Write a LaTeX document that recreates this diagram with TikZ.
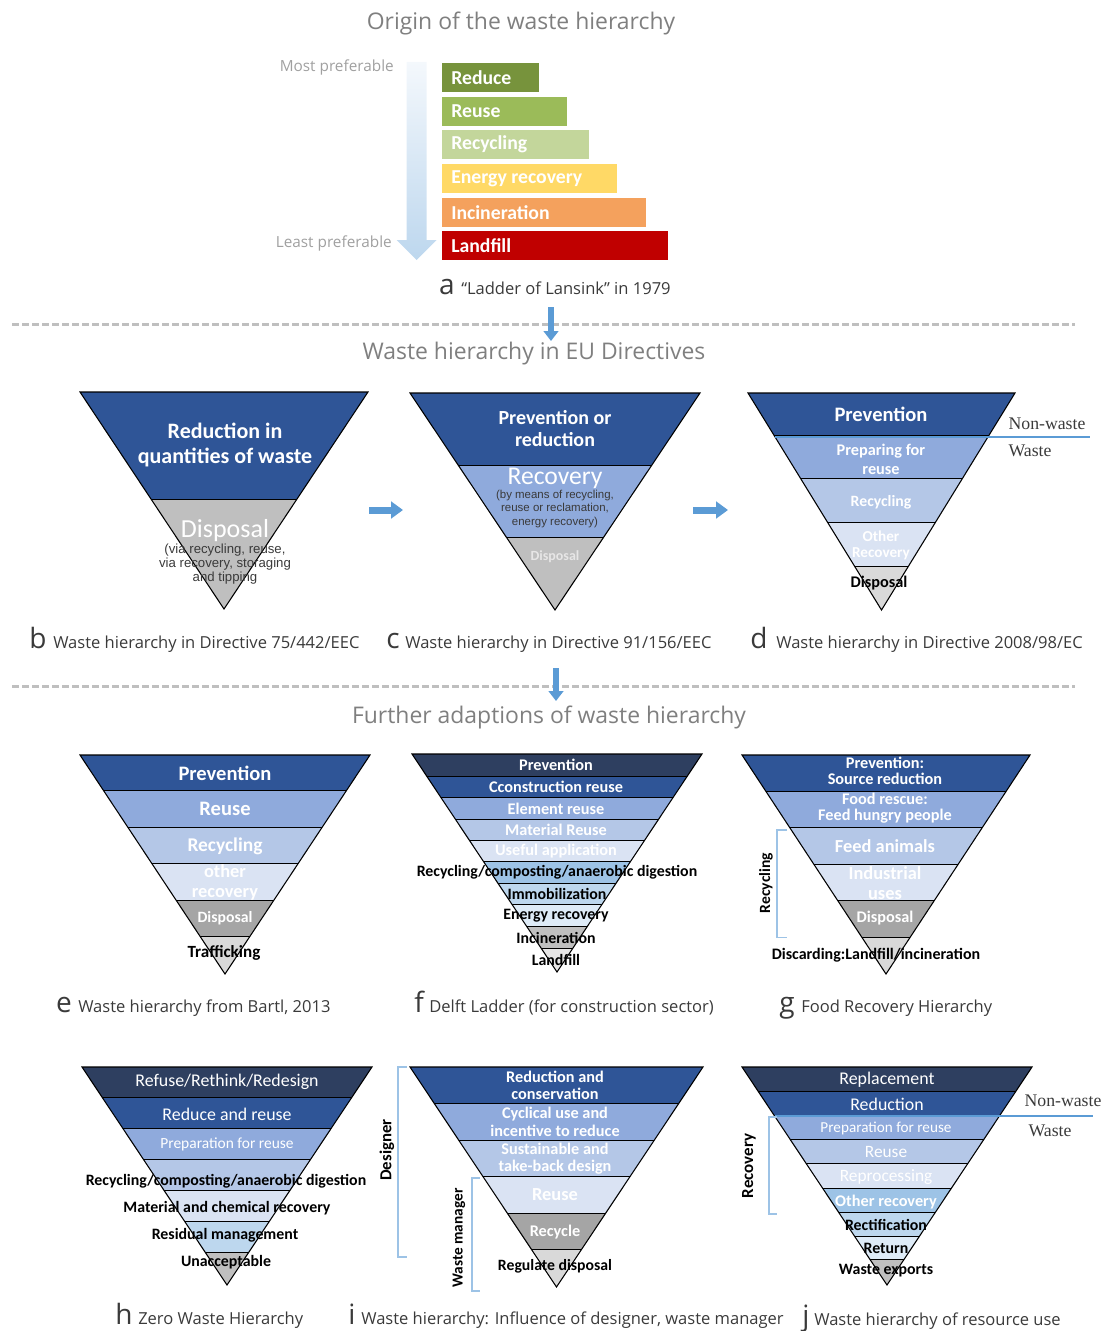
\documentclass[tikz,border=0pt]{standalone}
\usepackage{fontspec}
\setmainfont{Carlito}
\newfontfamily\capfont{Open Sans}
\newfontfamily\timesf{Liberation Serif}
\newfontfamily\arialf{Liberation Sans}
\usetikzlibrary{arrows.meta}
\definecolor{navy}{HTML}{2F5597}
\definecolor{slate}{HTML}{2E3F60}
\definecolor{blueB}{HTML}{8FAADC}
\definecolor{blueC}{HTML}{B4C7E7}
\definecolor{blueD}{HTML}{DAE3F3}
\definecolor{skyA}{HTML}{9DC3E6}
\definecolor{skyB}{HTML}{BDD7EE}
\definecolor{skyC}{HTML}{DEEBF7}
\definecolor{greyB}{HTML}{BFBFBF}
\definecolor{greyD}{HTML}{A5A5A5}
\definecolor{greyL}{HTML}{D9D9D9}
\definecolor{greyVL}{HTML}{E7E6E6}
\definecolor{lineblue}{HTML}{5B9BD5}
\definecolor{capgrey}{HTML}{3A3A3A}
\definecolor{titlegrey}{HTML}{7F7F7F}
\definecolor{prefgrey}{HTML}{A0A0A0}
\definecolor{cReduce}{HTML}{77933C}
\definecolor{cReuse}{HTML}{9BBB59}
\definecolor{cRecyc}{HTML}{C3D69B}
\definecolor{cEnergy}{HTML}{FFD966}
\definecolor{cIncin}{HTML}{F4A15D}
\definecolor{cLand}{HTML}{C00000}
\definecolor{ladtop}{HTML}{F4F8FC}
\definecolor{ladbot}{HTML}{BDD7EE}
\newcommand{\fz}[2]{\fontsize{#1}{#2}\selectfont}
\newcommand{\wastetri}[5]{%
  \begin{scope}
    \clip (#1,#3) -- (#2,#3) -- ({(#1+#2)/2},#4) -- cycle;
    \foreach \ya/\yb/\cc in {#5} {
      \fill[fill=\cc] (#1,\ya) rectangle (#2,\yb);
      \draw[sepline] (#1,\yb) -- (#2,\yb);
    }
  \end{scope}
  \draw[triout] (#1,#3) -- (#2,#3) -- ({(#1+#2)/2},#4) -- cycle;
}
\begin{document}
\begin{tikzpicture}[x=0.75pt,y=-0.75pt,
  sepline/.style={draw=black,line width=0.9pt},
  triout/.style={draw=black,line width=0.8pt,line join=miter},
  title/.style={font=\capfont\fz{17.2}{19},text=titlegrey,inner sep=0pt},
  pref/.style={font=\capfont\fz{11.5}{13},text=prefgrey,inner sep=0pt},
  bartxt/.style={font=\bfseries\fz{14.8}{16},text=white,anchor=west,inner sep=0pt},
  capl/.style={font=\capfont\fz{21}{21},text=capgrey,anchor=base,inner sep=0pt},
  capt/.style={font=\capfont\fz{12.4}{14},text=capgrey,anchor=base west,inner sep=0pt},
  wt/.style={text=white,align=center,inner sep=0pt},
  bk/.style={text=black,align=center,inner sep=0pt},
  serifl/.style={font=\timesf\fz{13.3}{15},text=capgrey,inner sep=0pt},
  nwline/.style={draw=lineblue,line width=1.9pt},
  brk/.style={draw=skyA,line width=1pt},
  dashsep/.style={draw=greyB,line width=2.25pt,dash pattern=on 5.25pt off 2.25pt},
  harrow/.style={draw=lineblue,line width=5.25pt,-{Triangle[length=9pt,width=12.5pt]}},
  varrow/.style={draw=lineblue,line width=4.5pt,-{Triangle[length=7.5pt,width=11pt]}}
]
\useasboundingbox (0,0) rectangle (1107,1331);

% ---------- titles
\node[title] (t1) at (521,23) {Origin of the waste hierarchy};
\node[title] (t2) at (534,354) {Waste hierarchy in EU Directives};
\node[title] (t3) at (549,717) {Further adaptions of waste hierarchy};

% ---------- ladder (a)
\shade[top color=ladtop,bottom color=ladbot] (406.5,62) -- (426.5,62) -- (426.5,240) -- (436.5,240) -- (416.5,260) -- (396.5,240) -- (406.5,240) -- cycle;
\node[pref,anchor=east] (most) at (394,67) {Most preferable};
\node[pref,anchor=east] (least) at (392,243) {Least preferable};
\fill[cReduce] (441.7,62.7) rectangle (539,91.7);
\fill[cReuse] (441.7,96.7) rectangle (566.7,125.7);
\fill[cRecyc] (441.7,130) rectangle (589,159);
\fill[cEnergy] (441.7,164) rectangle (617.3,192.7);
\fill[cIncin] (441.7,197.7) rectangle (645.7,226.7);
\fill[cLand] (441.7,231) rectangle (668.3,260);
\node[bartxt] (lreduce) at (451,77.2) {Reduce};
\node[bartxt] (lreuse) at (451,111.2) {Reuse};
\node[bartxt] (lrecyc) at (451,144.5) {Recycling};
\node[bartxt] (lenergy) at (451,178.3) {Energy recovery};
\node[bartxt] (lincin) at (451,212.2) {Incineration};
\node[bartxt] (lland) at (451,245.5) {Landfill};
\node[capl] (capal) at (447,294) {a};
\node[capt] (capa) at (461,294) {“Ladder of Lansink” in 1979};

% ---------- separators and down arrows
\draw[dashsep] (12,324) -- (1075,324);
\draw[dashsep] (12,686) -- (1075,686);
\coordinate (d1s) at (551,307); \coordinate (d1e) at (551,341);
\coordinate (d2s) at (556,668); \coordinate (d2e) at (556,701);
\draw[varrow] (d1s) -- (d1e);
\draw[varrow] (d2s) -- (d2e);

% ---------- b
\wastetri{80}{368}{392}{609}{392/500/navy, 500/609/greyB}
\node[wt,font=\bfseries\fz{16.5}{18.75}] (b1) at (225,445) {Reduction in\\quantities of waste};
\node[wt,font=\fz{19.5}{20}] (b2) at (225,531) {Disposal};
\node[align=center,inner sep=0pt,text=capgrey,font=\arialf\fz{9.9}{10.2}] (b3) at (225,564) {(via recycling, reuse,\\via recovery, storaging\\and tipping};

% ---------- c
\wastetri{410}{700}{393}{610}{393/466/navy, 466/538/blueB, 538/610/greyB}
\node[wt,font=\bfseries\fz{15}{16.5}] (c1) at (555,429) {Prevention or\\reduction};
\node[wt,font=\fz{19.2}{20}] (c2) at (555,478) {Recovery};
\node[align=center,inner sep=0pt,text=capgrey,font=\arialf\fz{8.6}{9.9}] (c3) at (555,509) {(by means of recycling,\\reuse or reclamation,\\energy recovery)};
\node[wt,text=greyVL,font=\bfseries\fz{10.5}{11}] (c4) at (555,557) {Disposal};

% ---------- d
\wastetri{748}{1015}{393}{610}{393/436/navy, 436/479/blueB, 479/523/blueC, 523/567/blueD, 567/610/greyL}
\draw[nwline] (775,437) -- (1090,437);
\node[wt,font=\bfseries\fz{15.4}{16}] (d1) at (881,414) {Prevention};
\node[wt,font=\bfseries\fz{12.2}{14.25}] (d2) at (881,459) {Preparing for\\reuse};
\node[wt,font=\bfseries\fz{11.8}{12}] (d3) at (881,502) {Recycling};
\node[wt,font=\bfseries\fz{11.4}{12}] (d4) at (881,545) {Other\\Recovery};
\node[bk,font=\bfseries\fz{12.2}{13}] (d5) at (879,583) {Disposal};
\node[serifl] (dnw) at (1047,424) {Non-waste};
\node[serifl] (dw) at (1030,451) {Waste};

% ---------- horizontal arrows
\coordinate (h1s) at (369,510); \coordinate (h1e) at (403,510);
\coordinate (h2s) at (693,510); \coordinate (h2e) at (728,510);
\draw[harrow] (h1s) -- (h1e);
\draw[harrow] (h2s) -- (h2e);

\node[capl] (capbl) at (38,648) {b};
\node[capt] (capb) at (53,648) {Waste hierarchy in Directive 75/442/EEC};
\node[capl] (capcl) at (393,648) {c};
\node[capt] (capc) at (405,648) {Waste hierarchy in Directive 91/156/EEC};
\node[capl] (capdl) at (759,648) {d};
\node[capt] (capd) at (776,648) {Waste hierarchy in Directive 2008/98/EC};

% ---------- e
\wastetri{80}{370}{755}{974}{755/791/navy, 791/827.5/blueB, 827.5/864/blueC, 864/900.5/blueD, 900.5/937/greyD, 937/974/greyL}
\node[wt,font=\bfseries\fz{15.4}{16}] (e1) at (225,773) {Prevention};
\node[wt,font=\bfseries\fz{15.4}{16}] (e2) at (225,809) {Reuse};
\node[wt,font=\bfseries\fz{14.6}{16}] (e3) at (225,846) {Recycling};
\node[wt,font=\bfseries\fz{13.8}{15}] (e4) at (225,882) {other\\recovery};
\node[wt,font=\bfseries\fz{11.8}{12}] (e5) at (225,918) {Disposal};
\node[bk,font=\bfseries\fz{12.8}{13}] (e6) at (224,953) {Trafficking};

% ---------- f
\wastetri{412}{702}{754}{972}{754/776.5/slate, 776.5/798/navy, 798/819.5/blueB, 819.5/841/blueC, 841/862/blueD, 862/883.5/skyA, 883.5/905/skyB, 905/926.5/skyC, 926.5/948.5/greyB, 948.5/972/greyVL}
\node[wt,font=\bfseries\fz{12.2}{13}] (f1) at (556,765) {Prevention};
\node[wt,font=\bfseries\fz{12.2}{13}] (f2) at (556,787) {Cconstruction reuse};
\node[wt,font=\bfseries\fz{12.2}{13}] (f3) at (556,808.5) {Element reuse};
\node[wt,font=\bfseries\fz{12.2}{13}] (f4) at (556,830) {Material Reuse};
\node[wt,font=\bfseries\fz{12.2}{13}] (f5) at (556,851) {Useful application};
\node[bk,font=\bfseries\fz{11.9}{13}] (f6) at (557,872.5) {Recycling/composting/anaerobic digestion};
\node[bk,font=\bfseries\fz{11.9}{13}] (f7) at (557,894) {Immobilization};
\node[bk,font=\bfseries\fz{11.9}{13}] (f8) at (556,915.5) {Energy recovery};
\node[bk,font=\bfseries\fz{11.9}{13}] (f9) at (556,937.5) {Incineration};
\node[bk,font=\bfseries\fz{11.9}{13}] (f10) at (556,959.5) {Landfill};

% ---------- g
\wastetri{742}{1030}{755}{974}{755/791.5/navy, 791.5/828/blueB, 828/864.5/blueC, 864.5/901/blueD, 901/937.5/greyD, 937.5/974/greyL}
\node[wt,font=\bfseries\fz{12.2}{12}] (g1) at (885,771) {Prevention:\\Source reduction};
\node[wt,font=\bfseries\fz{12.2}{12}] (g2) at (885,808) {Food rescue:\\Feed hungry people};
\node[wt,font=\bfseries\fz{13.8}{15}] (g3) at (885,846) {Feed animals};
\node[wt,font=\bfseries\fz{13.8}{15}] (g4) at (885,883) {Industrial\\uses};
\node[wt,font=\bfseries\fz{12.2}{13}] (g5) at (885,918) {Disposal};
\node[bk,font=\bfseries\fz{12}{13}] (g6) at (876,955) {Discarding:Landfill/incineration};
\draw[brk] (787,830) -- (777,830) -- (777,937.5) -- (787,937.5);
\node[bk,rotate=90,font=\bfseries\fz{11.7}{12}] (grec) at (766,883) {Recycling};

\node[capl] (capel) at (64,1012) {e};
\node[capt] (cape) at (78,1012) {Waste hierarchy from Bartl, 2013};
\node[capl] (capfl) at (419,1012) {f};
\node[capt] (capf) at (429,1012) {Delft Ladder (for construction sector)};
\node[capl] (capgl) at (787,1012) {g};
\node[capt] (capg) at (801,1012) {Food Recovery Hierarchy};

% ---------- h
\wastetri{82}{372}{1067}{1285}{1067/1098/slate, 1098/1129/navy, 1129/1160/blueB, 1160/1191/blueC, 1191/1222/blueD, 1222/1253/skyB, 1253/1285/greyB}
\node[wt,font=\fz{13.4}{14}] (h1) at (227,1082) {Refuse/Rethink/Redesign};
\node[wt,font=\fz{13.4}{14}] (h2) at (227,1114) {Reduce and reuse};
\node[wt,font=\fz{11.6}{12}] (h3) at (227,1144) {Preparation for reuse};
\node[bk,font=\bfseries\fz{11.9}{13}] (h4) at (226,1181) {Recycling/composting/anaerobic digestion};
\node[bk,font=\bfseries\fz{11.9}{13}] (h5) at (227,1208) {Material and chemical recovery};
\node[bk,font=\bfseries\fz{11.9}{13}] (h6) at (225,1235) {Residual management};
\node[bk,font=\bfseries\fz{11.9}{13}] (h7) at (226,1262) {Unacceptable};

% ---------- i
\wastetri{410}{703}{1067}{1287}{1067/1103.5/navy, 1103.5/1140.5/blueB, 1140.5/1177/blueC, 1177/1213.5/blueD, 1213.5/1250/greyD, 1250/1287/greyL}
\node[wt,font=\bfseries\fz{12.2}{13.1}] (i1) at (555,1085.5) {Reduction and\\conservation};
\node[wt,font=\bfseries\fz{12.2}{13.1}] (i2) at (555,1122) {Cyclical use and\\incentive to reduce};
\node[wt,font=\bfseries\fz{12.2}{13.1}] (i3) at (555,1158.5) {Sustainable and\\take-back design};
\node[wt,font=\bfseries\fz{13.8}{15}] (i4) at (555,1195) {Reuse};
\node[wt,font=\bfseries\fz{12.2}{13}] (i5) at (555,1232) {Recycle};
\node[bk,font=\bfseries\fz{11.8}{13}] (i6) at (555,1266) {Regulate disposal};
\draw[brk] (407,1067) -- (398,1067) -- (398,1257) -- (407,1257);
\node[bk,rotate=90,font=\bfseries\fz{12.6}{13}] (ides) at (387,1150) {Designer};
\draw[brk] (480,1178) -- (472,1178) -- (472,1291) -- (480,1291);
\node[bk,rotate=90,font=\bfseries\fz{11.5}{12}] (iwm) at (459,1238) {Waste manager};

% ---------- j
\wastetri{742}{1032}{1067}{1285}{1067/1092/slate, 1092/1116/navy, 1116/1140/blueB, 1140/1164/blueC, 1164/1188.5/blueD, 1188.5/1212.5/skyA, 1212.5/1236.5/skyB, 1236.5/1260/skyC, 1260/1285/greyB}
\draw[nwline] (775,1116) -- (1093,1116);
\node[wt,font=\fz{13.4}{14}] (j1) at (887,1080) {Replacement};
\node[wt,font=\fz{13.4}{14}] (j2) at (887,1104) {Reduction};
\node[wt,font=\fz{11.4}{12}] (j3) at (886,1128) {Preparation for reuse};
\node[wt,font=\fz{13}{14}] (j4) at (886,1152) {Reuse};
\node[wt,font=\fz{13}{14}] (j5) at (886,1177) {Reprocessing};
\node[wt,font=\bfseries\fz{12.2}{13}] (j6) at (886,1202) {Other recovery};
\node[bk,font=\bfseries\fz{11.9}{13}] (j7) at (886,1225) {Rectification};
\node[bk,font=\bfseries\fz{11.9}{13}] (j8) at (886,1248) {Return};
\node[bk,font=\bfseries\fz{11.9}{13}] (j9) at (886,1271) {Waste exports};
\node[serifl] (jnw) at (1063,1101) {Non-waste};
\node[serifl] (jw) at (1050,1131) {Waste};
\draw[brk] (777,1117) -- (769,1117) -- (769,1214) -- (777,1214);
\node[bk,rotate=90,font=\bfseries\fz{12.7}{13}] (jrec) at (749,1166) {Recovery};

\node[capl] (caphl) at (124,1324) {h};
\node[capt] (caph) at (138,1324) {Zero Waste Hierarchy};
\node[capl] (capil) at (352,1324) {i};
\node[capt] (capi) at (361,1324) {Waste hierarchy: Influence of designer, waste manager};
\node[capl] (capjl) at (806,1325) {j};
\node[capt] (capj) at (814,1325) {Waste hierarchy of resource use};
\end{tikzpicture}
\end{document}
